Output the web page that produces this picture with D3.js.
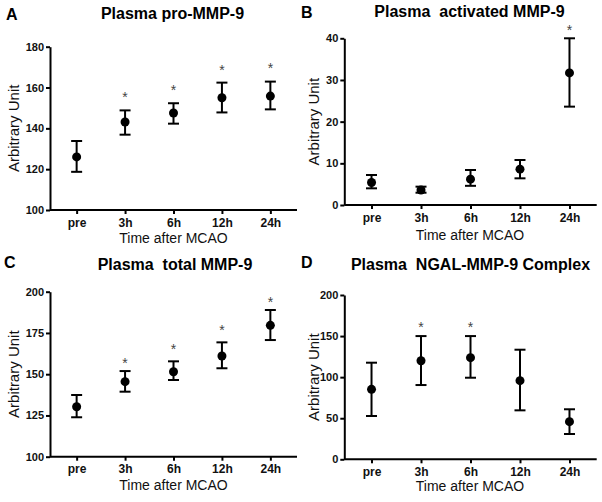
<!DOCTYPE html>
<html><head><meta charset="utf-8">
<script src="https://cdn.jsdelivr.net/npm/d3@7"></script>
<style>body{margin:0;background:#fff}svg{display:block}text{font-family:"Liberation Sans",Arial,sans-serif}</style>
</head><body>
<svg id="c" width="602" height="502"></svg>
<script>
const categories = ["pre","3h","6h","12h","24h"];

const meanA = [126, 143.1, 147.5, 155, 155.8];
const lowA  = [118.7, 136.9, 142.3, 147.8, 149.3];
const highA = [133.8, 148.8, 152.3, 162.4, 162.9];
const starA = [null, 156.4, 159.8, 169.9, 170.7];
const ticksA = [100,120,140,160,180];

const meanB = [5.4, 3.6, 6.2, 8.6, 31.7];
const lowB  = [4.0, 2.95, 4.6, 6.4, 23.6];
const highB = [7.2, 4.4, 8.4, 10.8, 40];
const starB = [null, null, null, null, 42.5];
const ticksB = [0,10,20,30,40];

const meanC = [130.3, 145.5, 151.5, 161, 179.6];
const lowC  = [123.9, 139.4, 146.5, 153.6, 170.7];
const highC = [137.4, 151.9, 157.8, 169.3, 188.9];
const starC = [null, 158.5, 167, 178.2, 195.4];
const ticksC = [100,125,150,175,200];

const meanD = [85.2, 120, 123.7, 95.7, 45.8];
const lowD  = [52.7, 90.4, 99.3, 59.6, 30.8];
const highD = [117.6, 150, 150, 133.4, 60.9];
const starD = [null, 163.5, 163.5, null, null];
const ticksD = [0,50,100,150,200];

const panels = [
  {letter:"A", title:"Plasma pro-MMP-9", mean:meanA, low:lowA, high:highA, star:starA, ticks:ticksA,
   x0:50, x1:297, yTop:46.7, yBot:210, letterX:6, letterY:20, titleX:172.5, titleY:18.5, ylabX:19, xlabX:173.5, xlabY:243},
  {letter:"B", title:"Plasma  activated MMP-9", mean:meanB, low:lowB, high:highB, star:starB, ticks:ticksB,
   x0:344.3, x1:596.7, yTop:38.3, yBot:205, letterX:301, letterY:18, titleX:469.5, titleY:17, ylabX:319, xlabX:470, xlabY:240},
  {letter:"C", title:"Plasma  total MMP-9", mean:meanC, low:lowC, high:highC, star:starC, ticks:ticksC,
   x0:50, x1:297, yTop:291.7, yBot:456.7, letterX:4, letterY:268, titleX:175, titleY:270, ylabX:19, xlabX:173.5, xlabY:490},
  {letter:"D", title:"Plasma  NGAL-MMP-9 Complex", mean:meanD, low:lowD, high:highD, star:starD, ticks:ticksD,
   x0:344.3, x1:596.7, yTop:295, yBot:459.3, letterX:301, letterY:268, titleX:470.5, titleY:270, ylabX:319, xlabX:470, xlabY:491}
];

const svg = d3.select("#c");
const FF = '"Liberation Sans",Arial,sans-serif';

panels.forEach(p => {
  const g = svg.append("g");
  const x = d3.scalePoint().domain(categories).range([p.x0, p.x1]).padding(0.55);
  const y = d3.scaleLinear().domain([p.ticks[0], p.ticks[p.ticks.length-1]]).range([p.yBot, p.yTop]);

  const ya = g.append("g").attr("transform", `translate(${p.x0},0)`)
    .call(d3.axisLeft(y).tickValues(p.ticks).tickSize(4).tickSizeOuter(0).tickPadding(2));
  const xa = g.append("g").attr("transform", `translate(0,${p.yBot})`)
    .call(d3.axisBottom(x).tickSize(4).tickSizeOuter(0).tickPadding(4));
  [ya, xa].forEach(a => {
    a.select(".domain").attr("stroke", "#000").attr("stroke-width", 2);
    a.selectAll(".tick line").attr("stroke", "#000").attr("stroke-width", 2);
    a.selectAll(".tick text").attr("fill", "#111").style("font-weight", "bold").style("font-family", FF);
  });
  xa.select(".domain").attr("d", `M${p.x0},0H${p.x1}`);
  ya.selectAll(".tick text").style("font-size", "11px");
  xa.selectAll(".tick text").style("font-size", "12px");

  const idx = d3.range(categories.length);
  g.selectAll(".eb").data(idx).enter().append("line")
    .attr("x1", i => x(categories[i])).attr("x2", i => x(categories[i]))
    .attr("y1", i => y(p.low[i])).attr("y2", i => y(p.high[i]))
    .attr("stroke", "#000").attr("stroke-width", 2);
  ["low","high"].forEach(k => {
    g.selectAll(".cap"+k).data(idx).enter().append("line")
      .attr("x1", i => x(categories[i]) - 5.5).attr("x2", i => x(categories[i]) + 5.5)
      .attr("y1", i => y(p[k][i])).attr("y2", i => y(p[k][i]))
      .attr("stroke", "#000").attr("stroke-width", 2);
  });
  g.selectAll(".pt").data(idx).enter().append("circle")
    .attr("cx", i => x(categories[i])).attr("cy", i => y(p.mean[i])).attr("r", 4.5).attr("fill", "#000");
  g.selectAll(".star").data(idx.filter(i => p.star[i] != null)).enter().append("text")
    .attr("x", i => x(categories[i])).attr("y", i => y(p.star[i]) + 7.5)
    .attr("text-anchor", "middle").attr("fill", "#444").style("font-size", "14px").text("*");

  g.append("text").attr("x", p.letterX).attr("y", p.letterY).style("font-size", "16px").style("font-weight", "bold").text(p.letter);
  g.append("text").attr("x", p.titleX).attr("y", p.titleY).attr("text-anchor", "middle")
    .style("font-size", "16px").style("font-weight", "bold").style("white-space", "pre").text(p.title);
  g.append("text").attr("transform", `translate(${p.ylabX},${(p.yTop + p.yBot)/2}) rotate(-90)`)
    .attr("text-anchor", "middle").attr("fill", "#111").style("font-size", "15px").text("Arbitrary Unit");
  g.append("text").attr("x", p.xlabX).attr("y", p.xlabY).attr("text-anchor", "middle")
    .attr("fill", "#111").style("font-size", "14px").text("Time after MCAO");
});
</script>
</body></html>
